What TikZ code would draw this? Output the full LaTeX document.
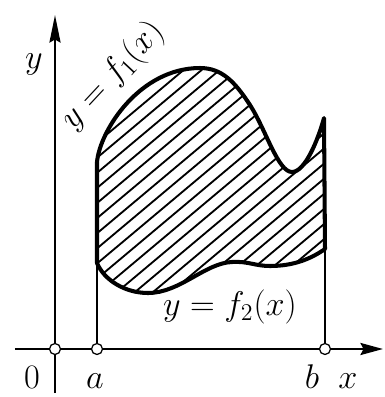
\RequirePackage{fix-cm}
\documentclass[tikz,border=0pt]{standalone}
\usetikzlibrary{arrows.meta}
\begin{document}
\begin{tikzpicture}[x=0.02cm,y=-0.02cm,
  axisline/.style={line width=1.4pt},
  bound/.style={line width=2.3pt,line join=round},
  hatchline/.style={line width=1.05pt},
  thinline/.style={line width=0.9pt},
  dotnode/.style={circle,draw,line width=0.7pt,fill=white,inner sep=0pt,minimum size=0.22cm},
  lbl/.style={font=\fontsize{19.5}{23}\selectfont,inner sep=0pt}]
\useasboundingbox (0,0) rectangle (385,397);
% hatching
\begin{scope}
\clip (97,162) .. controls (100,130) and (140,68) .. (200,68)
  .. controls (222,68) and (235,82) .. (250,105)
  .. controls (266,130) and (278,172) .. (292,172)
  .. controls (305,172) and (318,140) .. (324,118)
  -- (325,249)
  .. controls (312,258) and (295,266) .. (270,266)
  .. controls (255,266) and (248,261) .. (232,262)
  .. controls (205,263) and (180,293) .. (148,293)
  .. controls (125,293) and (104,280) .. (97,263)
  -- cycle;
\foreach \c in {-420,-402,...,340}
  \draw[hatchline] (\c,350) -- ++(417,-350);
\end{scope}
% boundary
\draw[bound] (97,162) .. controls (100,130) and (140,68) .. (200,68)
  .. controls (222,68) and (235,82) .. (250,105)
  .. controls (266,130) and (278,172) .. (292,172)
  .. controls (305,172) and (318,140) .. (324,118)
  -- (325,249)
  .. controls (312,258) and (295,266) .. (270,266)
  .. controls (255,266) and (248,261) .. (232,262)
  .. controls (205,263) and (180,293) .. (148,293)
  .. controls (125,293) and (104,280) .. (97,263)
  -- cycle;
% axes
\coordinate (ybot) at (55,393);
\coordinate (ytop) at (55,15);
\coordinate (xleft) at (15,349);
\coordinate (xright) at (383,349);
\draw[axisline,-{Stealth[length=0.55cm,width=0.22cm,inset=0.06cm]}] (ybot) -- (ytop);
\draw[axisline,-{Stealth[length=0.45cm,width=0.24cm,inset=0.06cm]}] (xleft) -- (xright);
% verticals
\coordinate (atop) at (97,263);
\coordinate (btop) at (325,249);
\node[dotnode] (o) at (55,349) {};
\node[dotnode] (a) at (97,349) {};
\node[dotnode] (b) at (325,349) {};
\draw[thinline] (atop) -- (a);
\draw[thinline] (btop) -- (b);
% labels
\node[lbl] (ylab) at (34,64) {$y$};
\node[lbl,rotate=47] (f1lab) at (113,76) {$y=f_1(x)$};
\node[lbl,anchor=base] (f2lab) at (230,315) {$y=f_2(x)$};
\node[lbl,anchor=base] (olab) at (32,388) {$0$};
\node[lbl,anchor=base] (alab) at (95,388) {$a$};
\node[lbl,anchor=base] (blab) at (312,388) {$b$};
\node[lbl,anchor=base] (xlab) at (348,388) {$x$};
\end{tikzpicture}
\end{document}
